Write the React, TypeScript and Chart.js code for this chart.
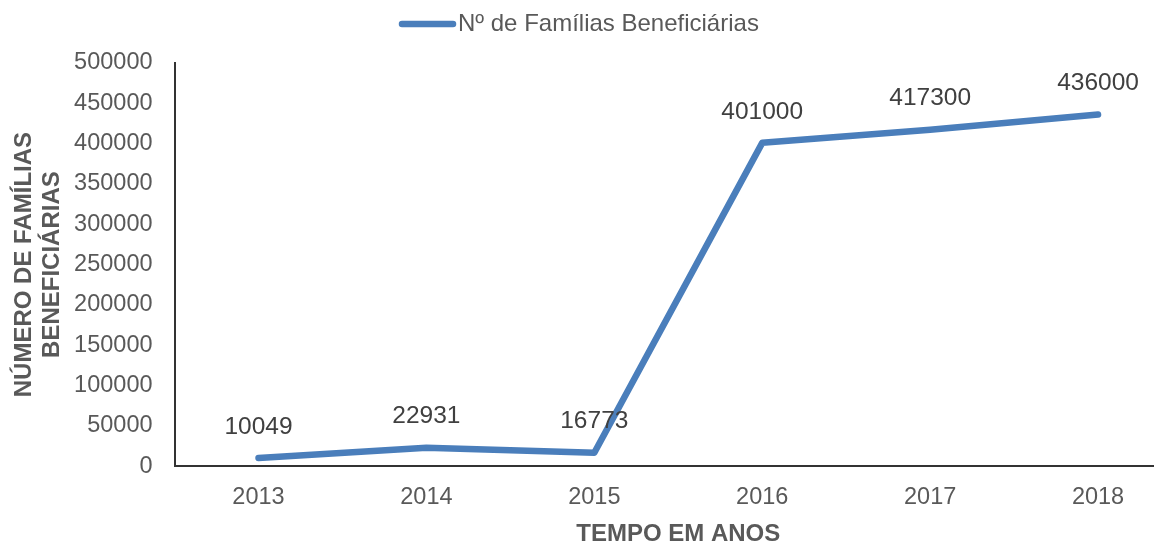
import React, { useEffect, useRef } from "react";
import { Chart, registerables } from "chart.js";

Chart.register(...registerables);

const categories = ["2013", "2014", "2015", "2016", "2017", "2018"];
const familias = [10049, 22931, 16773, 401000, 417300, 436000];
const seriesLabel = "Nº de Famílias Beneficiárias";
const xTitle = "TEMPO EM ANOS";
const yTitle = ["NÚMERO DE FAMÍLIAS", "BENEFICIÁRIAS"];

const FONT = "'Liberation Sans', Arial, sans-serif";
const LINE_COLOR = "#4a7ebb";

const legendPlugin = {
  id: "customLegend",
  afterDraw(chart: any) {
    const ctx = chart.ctx;
    ctx.save();
    ctx.strokeStyle = LINE_COLOR;
    ctx.lineWidth = 6.5;
    ctx.lineCap = "round";
    ctx.beginPath();
    ctx.moveTo(402, 24);
    ctx.lineTo(453, 24);
    ctx.stroke();
    ctx.fillStyle = "#595959";
    ctx.font = `24px ${FONT}`;
    ctx.textAlign = "left";
    ctx.textBaseline = "middle";
    ctx.fillText(chart.data.datasets[0].label, 458, 24);
    ctx.restore();
  },
};

const dataLabelPlugin = {
  id: "dataLabels",
  afterDatasetsDraw(chart: any) {
    const ctx = chart.ctx;
    const meta = chart.getDatasetMeta(0);
    const data = chart.data.datasets[0].data;
    ctx.save();
    ctx.fillStyle = "#404040";
    ctx.font = `24.5px ${FONT}`;
    ctx.textAlign = "center";
    ctx.textBaseline = "middle";
    meta.data.forEach((pt: any, i: number) => {
      ctx.fillText(String(data[i]), pt.x, pt.y - 31);
    });
    ctx.restore();
  },
};

export default function App() {
  const ref = useRef<HTMLCanvasElement>(null);

  useEffect(() => {
    if (!ref.current) return;
    const chart = new Chart(ref.current, {
      type: "line",
      data: {
        labels: categories,
        datasets: [
          {
            label: seriesLabel,
            data: familias,
            borderColor: LINE_COLOR,
            backgroundColor: LINE_COLOR,
            borderWidth: 6.5,
            borderCapStyle: "round",
            borderJoinStyle: "round",
            pointRadius: 0,
            tension: 0,
            fill: false,
          },
        ],
      },
      options: {
        responsive: false,
        animation: false,
        devicePixelRatio: 1,
        layout: { padding: { left: 10, right: 0, top: 63, bottom: 0 } },
        plugins: {
          legend: { display: false },
          tooltip: { enabled: false },
        },
        scales: {
          x: {
            type: "category",
            offset: true,
            grid: { display: false, drawTicks: false },
            border: { display: true, color: "#333333", width: 2 },
            ticks: {
              color: "#595959",
              font: { family: FONT, size: 23.5, lineHeight: 1.2 },
              padding: 17,
            },
            title: {
              display: true,
              text: xTitle,
              color: "#595959",
              font: { family: FONT, size: 24, weight: "bold", lineHeight: 1.15 },
              padding: { top: -8, bottom: 2 },
            },
          },
          y: {
            min: 0,
            max: 500000,
            grid: { display: false, drawTicks: false },
            border: { display: true, color: "#333333", width: 2 },
            ticks: {
              stepSize: 50000,
              color: "#595959",
              font: { family: FONT, size: 23.5, lineHeight: 1.2 },
              padding: 22,
              callback: (v: any) => String(v),
            },
            title: {
              display: true,
              text: yTitle,
              color: "#595959",
              font: { family: FONT, size: 24, weight: "bold", lineHeight: 1.19 },
              padding: { top: 0, bottom: -15 },
            },
          },
        },
      },
      plugins: [legendPlugin, dataLabelPlugin],
    } as any);
    return () => chart.destroy();
  }, []);

  return (
    <div
      style={{
        position: "absolute",
        left: 0,
        top: 0,
        width: 1154,
        height: 543,
        overflow: "hidden",
        background: "#ffffff",
      }}
    >
      <canvas ref={ref} width={1182} height={550} style={{ display: "block" }} />
    </div>
  );
}
